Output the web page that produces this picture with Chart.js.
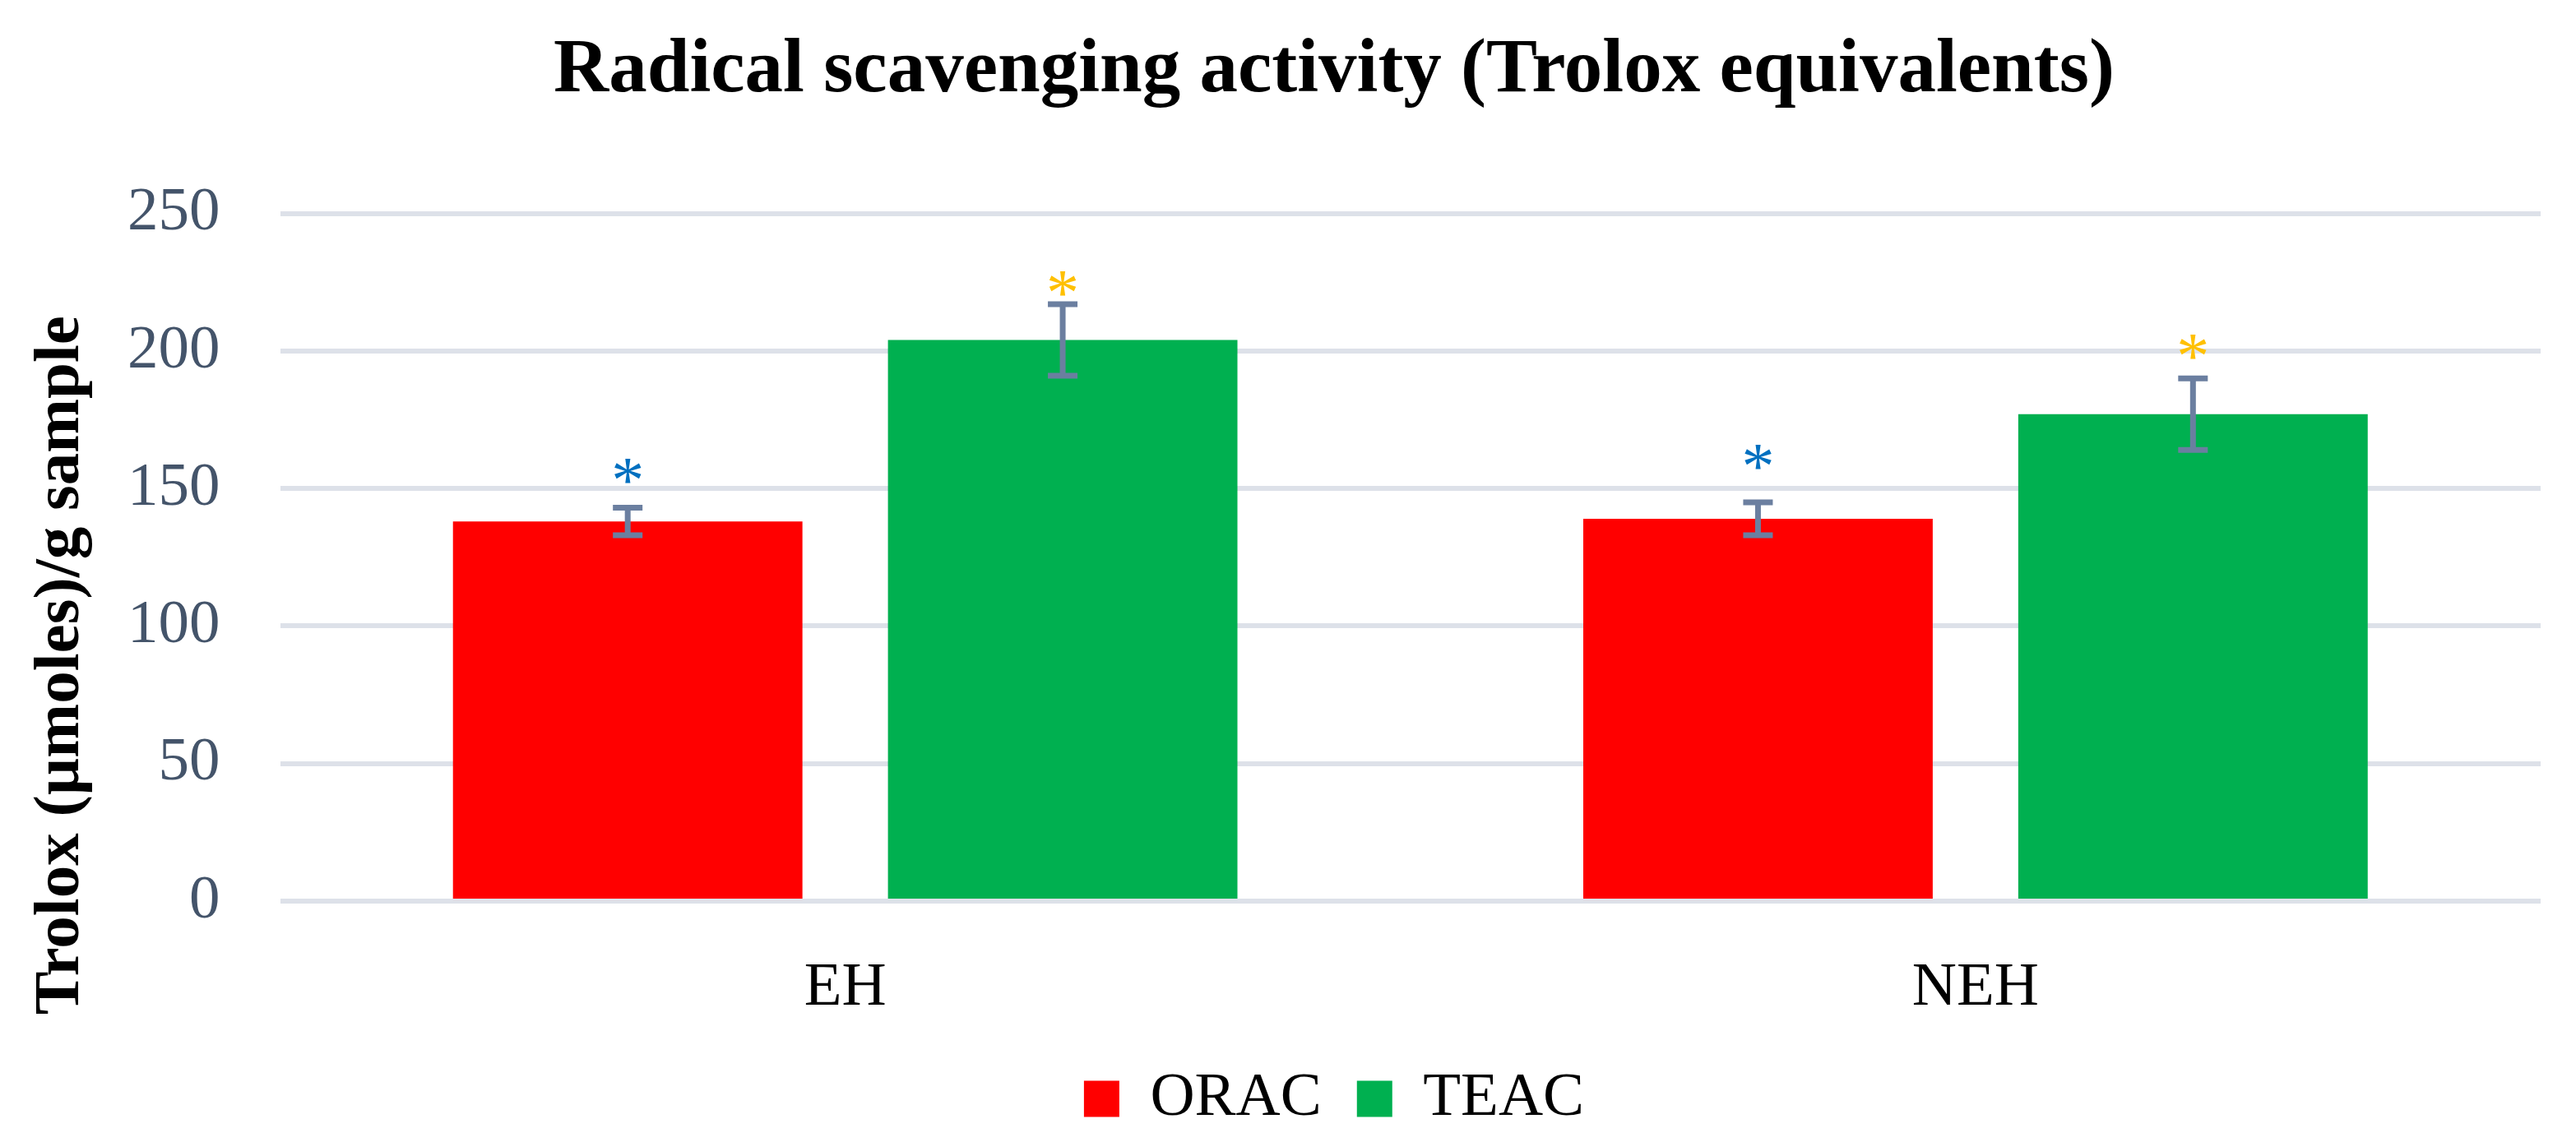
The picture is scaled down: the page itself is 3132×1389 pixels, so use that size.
<!DOCTYPE html>
<html><head><meta charset="utf-8">
<script src="https://cdn.jsdelivr.net/npm/chart.js@4.4.1/dist/chart.umd.min.js"></script>
<style>html,body{margin:0;padding:0;background:#fff;overflow:hidden;}canvas{display:block;}</style>
</head><body>
<canvas id="c" width="3132" height="1389" style="width:3132px;height:1389px"></canvas>
<script>
// ---- data ----
const categories = ['EH', 'NEH'];
const seriesNames = ['ORAC', 'TEAC'];
const oracValues = [138, 139];
const teacValues = [204, 177];
const oracErrors = [5, 6];
const teacErrors = [13, 13];
const oracMarkPos = [156, 161];   // where the "*" sits (value units)
const teacMarkPos = [224, 201];
const yTickValues = [0, 50, 100, 150, 200, 250];
const chartTitle = 'Radical scavenging activity (Trolox equivalents)';
const yAxisTitle = 'Trolox (µmoles)/g sample';

const SERIF = '"Liberation Serif", "Times New Roman", serif';
const MARK_SIZE = 80;

const errorAndMarkPlugin = {
  id: 'errorAndMark',
  afterDatasetsDraw(chart) {
    const ctx = chart.ctx;
    const ys = chart.scales.y;
    chart.data.datasets.forEach((ds, di) => {
      const meta = chart.getDatasetMeta(di);
      meta.data.forEach((bar, i) => {
        const v = ds.data[i], e = ds.errors[i];
        const yTop = ys.getPixelForValue(v + e);
        const yBot = ys.getPixelForValue(v - e);
        ctx.save();
        ctx.strokeStyle = '#6B7FA0';
        ctx.lineCap = 'butt';
        ctx.lineWidth = 7;
        ctx.beginPath();
        ctx.moveTo(bar.x, yTop); ctx.lineTo(bar.x, yBot);
        ctx.moveTo(bar.x - 18, yTop); ctx.lineTo(bar.x + 18, yTop);
        ctx.moveTo(bar.x - 18, yBot); ctx.lineTo(bar.x + 18, yBot);
        ctx.stroke();
        ctx.fillStyle = ds.markColor;
        ctx.font = MARK_SIZE + 'px ' + SERIF;
        ctx.textAlign = 'center';
        ctx.textBaseline = 'alphabetic';
        ctx.fillText('*', bar.x, ys.getPixelForValue(ds.markPos[i]) + 0.46 * MARK_SIZE);
        ctx.restore();
      });
    });
  }
};

const yTitlePlugin = {
  id: 'yTitle',
  afterDraw(chart) {
    const ctx = chart.ctx;
    const a = chart.chartArea;
    ctx.save();
    ctx.translate(95, a.top + 0.657 * (a.bottom - a.top));
    ctx.rotate(-Math.PI / 2);
    ctx.font = 'bold 79px ' + SERIF;
    ctx.fillStyle = '#000';
    ctx.textAlign = 'center';
    ctx.textBaseline = 'alphabetic';
    ctx.fillText(yAxisTitle, 0, 0);
    ctx.restore();
  }
};

new Chart(document.getElementById('c'), {
  type: 'bar',
  data: {
    labels: categories,
    datasets: [
      { label: seriesNames[0], data: oracValues, errors: oracErrors, markPos: oracMarkPos, markColor: '#0070C0',
        backgroundColor: '#FF0000', borderWidth: 0 },
      { label: seriesNames[1], data: teacValues, errors: teacErrors, markPos: teacMarkPos, markColor: '#FFC000',
        backgroundColor: '#00B050', borderWidth: 0 }
    ]
  },
  options: {
    responsive: false,
    animation: false,
    devicePixelRatio: 1,
    layout: { padding: { left: 155, right: 43, top: 0, bottom: 5 } },
    datasets: { bar: { categoryPercentage: 0.7697, barPercentage: 0.8034 } },
    plugins: {
      title: {
        display: true, text: chartTitle, color: '#000',
        font: { family: SERIF, size: 93, weight: 'bold' },
        padding: { top: 31, bottom: 117 }
      },
      legend: {
        position: 'bottom',
        labels: { color: '#000', font: { family: SERIF, size: 75 }, boxWidth: 43, boxHeight: 44, padding: 43 }
      },
      tooltip: { enabled: false }
    },
    scales: {
      x: {
        grid: { display: false, drawTicks: false },
        border: { display: false },
        ticks: { color: '#000', font: { family: SERIF, size: 75 }, padding: 61 },
        afterFit(scale) { scale.height = 160; }
      },
      y: {
        min: 0, max: 250,
        afterBuildTicks(scale) { scale.ticks = yTickValues.map(v => ({ value: v })); },
        grid: { color: '#DDE1E9', lineWidth: 6, drawTicks: false },
        border: { display: false },
        ticks: { color: '#44546A', font: { family: SERIF, size: 75 }, padding: 73 },
        afterFit(scale) { scale.width -= scale.options.ticks.padding; }
      }
    }
  },
  plugins: [errorAndMarkPlugin, yTitlePlugin]
});
</script>
</body></html>
